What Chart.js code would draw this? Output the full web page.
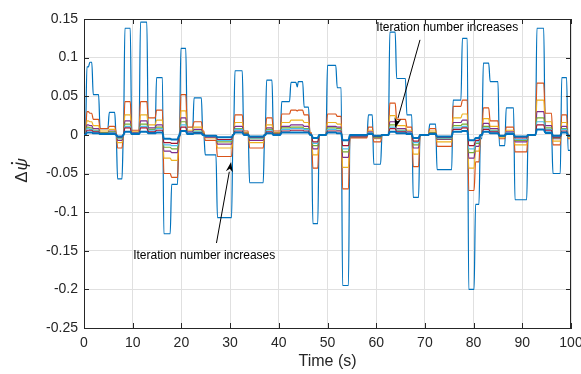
<!DOCTYPE html>
<html>
<head>
<meta charset="utf-8">
<script src="https://cdn.jsdelivr.net/npm/chart.js@4/dist/chart.umd.min.js"></script>
<style>
  html, body { margin: 0; padding: 0; background: #fff; }
  #wrap { width: 581px; height: 374px; }
</style>
</head>
<body>
<div id="wrap"><canvas id="myChart" width="581" height="374"></canvas></div>
<script>
// segment start times (s); each value holds until the next start
const segStart = [0,0.6,1.2,1.9,3.3,5.2,6.6,6.9,8.1,8.4,
  9.8,11.6,13.2,14.9,16.4,18.0,19.5,19.9,21.2,22.6,
  24.4,24.9,27.4,30.6,31.0,32.8,34.0,37.1,37.5,38.9,
  40.6,42.5,43.8,44.0,45.2,46.4,47.0,48.3,50.0,52.0,
  53.1,54.6,58.4,59.5,61.2,62.8,64.2,66.3,67.6,69.0,
  71.0,72.5,75.8,77.7,79.0,80.4,81.4,82.0,83.4,85.3,
  86.7,88.5,91.2,93.0,94.7,96.3,98.1,99.4];
const endTime = 100;

// one array per iteration
const iter1 = [0,0.088,0.094,0.052,0.008,0.029,0,-0.057,0,0.138,
  0.003,0.146,0.003,0.074,-0.128,-0.064,0.002,0.112,0.002,0.048,
  0,-0.026,-0.107,0,0.083,0.002,-0.062,0,0.071,0,
  0.043,0.068,0.062,0.069,0.036,0,-0.115,0,0.09,0.061,
  -0.195,-0.003,0.026,-0.038,0,0.133,0.073,0.026,-0.081,0,
  0.014,-0.045,0.045,0.125,-0.2,-0.09,-0.005,0.093,0.069,-0.014,
  0.035,-0.084,0,0.138,0.002,-0.05,0.074,-0.02];
const iter2 = [0,0.030,0.028,0.020,0.008,0.011,0.004,-0.017,0,0.043,
  0.006,0.043,0.022,0.032,-0.050,-0.055,-0.010,0.052,0.010,0.017,
  0.005,-0.007,-0.028,0,0.026,0.005,-0.017,0,0.022,0.005,
  0.027,0.032,0.031,0.032,0.026,0.003,-0.043,0,0.027,0.024,
  -0.070,-0.004,0.010,-0.009,0,0.041,0.020,0.010,-0.041,0,
  0.008,-0.015,0.037,0.045,-0.072,-0.035,0,0.035,0.018,-0.005,
  0.010,-0.022,0,0.067,0.028,-0.013,0.026,-0.005];
const iter3 = [0,0.018,0.017,0.012,0.005,0.007,0.002,-0.010,0,0.026,
  0.004,0.026,0.013,0.019,-0.030,-0.033,-0.006,0.031,0.006,0.010,
  0.003,-0.004,-0.017,0,0.016,0.003,-0.010,0,0.013,0.003,
  0.016,0.019,0.019,0.019,0.016,0.002,-0.026,0,0.016,0.014,
  -0.042,-0.002,0.006,-0.005,0,0.025,0.012,0.006,-0.025,0,
  0.005,-0.009,0.022,0.027,-0.043,-0.021,0,0.021,0.011,-0.003,
  0.006,-0.013,0,0.045,0.017,-0.008,0.016,-0.003];
const iter4 = [0,0.013,0.012,0.008,0.003,0.005,0.002,-0.007,0,0.018,
  0.003,0.018,0.009,0.013,-0.021,-0.023,-0.004,0.022,0.004,0.007,
  0.002,-0.003,-0.012,0,0.011,0.002,-0.007,0,0.009,0.002,
  0.011,0.013,0.013,0.013,0.011,0.001,-0.018,0,0.011,0.010,
  -0.029,-0.002,0.004,-0.004,0,0.017,0.008,0.004,-0.017,0,
  0.003,-0.006,0.016,0.019,-0.030,-0.015,0,0.015,0.008,-0.002,
  0.004,-0.009,0,0.030,0.012,-0.005,0.011,-0.002];
const iter5 = [0,0.010,0.009,0.006,0.003,0.004,0.001,-0.005,0,0.014,
  0.002,0.014,0.007,0.010,-0.016,-0.018,-0.003,0.017,0.003,0.005,
  0.002,-0.002,-0.009,0,0.008,0.002,-0.005,0,0.007,0.002,
  0.009,0.010,0.010,0.010,0.008,0.001,-0.014,0,0.009,0.008,
  -0.022,-0.001,0.003,-0.003,0,0.013,0.006,0.003,-0.013,0,
  0.003,-0.005,0.012,0.014,-0.023,-0.011,0,0.011,0.006,-0.002,
  0.003,-0.007,0,0.022,0.009,-0.004,0.008,-0.002];
const iter6 = [0,0.008,0.007,0.005,0.002,0.003,0.001,-0.004,0,0.011,
  0.002,0.011,0.006,0.008,-0.013,-0.014,-0.003,0.013,0.003,0.004,
  0.001,-0.002,-0.007,0,0.007,0.001,-0.004,0,0.006,0.001,
  0.007,0.008,0.008,0.008,0.007,0.001,-0.011,0,0.007,0.006,
  -0.018,-0.001,0.003,-0.002,0,0.010,0.005,0.003,-0.010,0,
  0.002,-0.004,0.009,0.011,-0.018,-0.009,0,0.009,0.005,-0.001,
  0.003,-0.006,0,0.017,0.007,-0.003,0.007,-0.001];
const iter7 = [0,0.006,0.006,0.004,0.002,0.002,0.001,-0.003,0,0.009,
  0.001,0.009,0.004,0.006,-0.010,-0.011,-0.002,0.010,0.002,0.003,
  0.001,-0.001,-0.006,0,0.005,0.001,-0.003,0,0.004,0.001,
  0.005,0.006,0.006,0.006,0.005,0.001,-0.009,0,0.005,0.005,
  -0.014,-0.001,0.002,-0.002,0,0.008,0.004,0.002,-0.008,0,
  0.002,-0.003,0.007,0.009,-0.014,-0.007,0,0.007,0.004,-0.001,
  0.002,-0.004,0,0.013,0.006,-0.003,0.005,-0.001];
const iter8 = [0,0.003,0.003,0.002,0.001,0.001,0,-0.002,0,0.004,
  0.001,0.004,0.002,0.003,-0.005,-0.006,-0.001,0.005,0.001,0.002,
  0,-0.001,-0.003,0,0.003,0,-0.002,0,0.002,0,
  0.003,0.003,0.003,0.003,0.003,0,-0.004,0,0.003,0.002,
  -0.007,0,0.001,-0.001,0,0.004,0.002,0.001,-0.004,0,
  0.001,-0.002,0.004,0.005,-0.007,-0.004,0,0.004,0.002,-0.001,
  0.001,-0.002,0,0.007,0.003,-0.001,0.003,-0.001];

const xTicks = [0,10,20,30,40,50,60,70,80,90,100];
const yTicks = [-0.25,-0.2,-0.15,-0.1,-0.05,0,0.05,0.1,0.15];
const annoText = 'Iteration number increases';

const colors = ['#0072BD','#D95319','#EDB120','#7E2F8E','#77AC30','#4DBEEE','#A2142F','#0072BD'];
const allIters = [iter1,iter2,iter3,iter4,iter5,iter6,iter7,iter8];

// each segment -> two points (start, just before next start)
function toPoints(vals){
  const pts = [];
  for(let i=0;i<segStart.length;i++){
    const t0 = segStart[i];
    const last = i+1>=segStart.length;
    const t1 = last ? endTime : segStart[i+1];
    pts.push({x:t0, y:vals[i]});
    pts.push({x:Math.max(t0, last ? t1 : t1-0.3), y:vals[i]});
  }
  return pts;
}

const FONT = '"Liberation Sans", Arial, Helvetica, sans-serif';
const INK = '#262626';

const frame = {
  id:'frame',
  afterDraw(chart){
    const {ctx, chartArea:a, scales:{x,y}} = chart;
    ctx.save();
    ctx.strokeStyle = INK; ctx.lineWidth = 1;
    ctx.beginPath();
    ctx.moveTo(a.left, a.top+0.5); ctx.lineTo(a.right, a.top+0.5);
    ctx.moveTo(a.right-0.5, a.top); ctx.lineTo(a.right-0.5, a.bottom);
    xTicks.forEach(v=>{
      const px = Math.round(x.getPixelForValue(v))+0.5;
      ctx.moveTo(px, a.bottom); ctx.lineTo(px, a.bottom-5);
      ctx.moveTo(px, a.top); ctx.lineTo(px, a.top+5);
    });
    yTicks.forEach(v=>{
      const py = Math.round(y.getPixelForValue(v))+0.5;
      ctx.moveTo(a.left, py); ctx.lineTo(a.left+5, py);
      ctx.moveTo(a.right, py); ctx.lineTo(a.right-5, py);
    });
    ctx.stroke();

    // axis titles
    ctx.fillStyle = INK;
    ctx.font = '16px ' + FONT;
    ctx.textAlign = 'center'; ctx.textBaseline = 'middle';
    ctx.fillText('Time (s)', (a.left+a.right)/2, 362);

    ctx.save();
    ctx.translate(22, 171);
    ctx.rotate(-Math.PI/2);
    ctx.textAlign = 'left';
    ctx.font = '17px ' + FONT;
    const w1 = ctx.measureText('\u0394').width;
    ctx.font = 'italic 17px ' + FONT;
    const w2 = ctx.measureText('\u03C8').width;
    const sx = -(w1+w2)/2;
    ctx.font = '17px ' + FONT;
    ctx.fillText('\u0394', sx, 0);
    ctx.font = 'italic 17px ' + FONT;
    ctx.fillText('\u03C8', sx+w1+1, 0);
    ctx.beginPath();
    ctx.arc(sx+w1+1+w2*0.6, -10, 1.2, 0, Math.PI*2);
    ctx.fill();
    ctx.restore();

    // annotations
    ctx.fillStyle = '#000'; ctx.strokeStyle = '#000';
    ctx.font = '12px ' + FONT;
    ctx.textAlign = 'left'; ctx.textBaseline = 'middle';
    ctx.fillText(annoText, x.getPixelForValue(60.0), y.getPixelForValue(0.139));
    ctx.fillText(annoText, x.getPixelForValue(10.1), y.getPixelForValue(-0.157));
    arrow(ctx, x.getPixelForValue(69.0), y.getPixelForValue(0.123), x.getPixelForValue(63.9), y.getPixelForValue(0.009));
    arrow(ctx, x.getPixelForValue(27.2), y.getPixelForValue(-0.14), x.getPixelForValue(30.2), y.getPixelForValue(-0.035));
    ctx.restore();
  }
};

function arrow(ctx, x0, y0, x1, y1){
  const ang = Math.atan2(y1-y0, x1-x0);
  const len = 10, half = 3.5;
  const bx = x1 - len*Math.cos(ang), by = y1 - len*Math.sin(ang);
  ctx.lineWidth = 1;
  ctx.beginPath(); ctx.moveTo(x0,y0); ctx.lineTo(bx,by); ctx.stroke();
  ctx.beginPath();
  ctx.moveTo(x1,y1);
  ctx.lineTo(bx + half*Math.sin(ang), by - half*Math.cos(ang));
  ctx.lineTo(x1 - len*0.7*Math.cos(ang), y1 - len*0.7*Math.sin(ang));
  ctx.lineTo(bx - half*Math.sin(ang), by + half*Math.cos(ang));
  ctx.closePath(); ctx.fill();
}

new Chart(document.getElementById('myChart').getContext('2d'), {
  type:'line',
  data:{
    datasets: allIters.map((vals,i)=>({
      label:'Iteration '+(i+1),
      data: toPoints(vals),
      borderColor: colors[i],
      borderWidth: i===7 ? 2 : 1.2,
      pointRadius: 0,
      cubicInterpolationMode: 'monotone',
      fill: false,
      order: 7-i
    }))
  },
  options:{
    responsive:false,
    devicePixelRatio:1,
    animation:false,
    layout:{ padding:{ top:19, right:10, left:0, bottom:0 } },
    plugins:{ legend:{display:false}, tooltip:{enabled:false} },
    scales:{
      x:{
        type:'linear', min:0, max:100,
        afterBuildTicks: s => { s.ticks = xTicks.map(v=>({value:v})); },
        afterFit: s => { s.height = 46; s.paddingLeft = 0; s.paddingRight = 0; },
        ticks:{ color:INK, font:{family:FONT, size:14}, padding:7, maxRotation:0, autoSkip:false },
        grid:{ color:'#e0e0e0', drawTicks:false },
        border:{ color:INK, width:1 }
      },
      y:{
        type:'linear', min:-0.25, max:0.15,
        afterBuildTicks: s => { s.ticks = yTicks.map(v=>({value:v})); },
        afterFit: s => { s.width = 84; s.paddingTop = 0; s.paddingBottom = 0; },
        ticks:{ color:INK, font:{family:FONT, size:14}, padding:6,
          callback: v => String(parseFloat(Number(v).toFixed(2))) },
        grid:{ color:'#e0e0e0', drawTicks:false },
        border:{ color:INK, width:1 }
      }
    }
  },
  plugins:[frame]
});
</script>
</body>
</html>
